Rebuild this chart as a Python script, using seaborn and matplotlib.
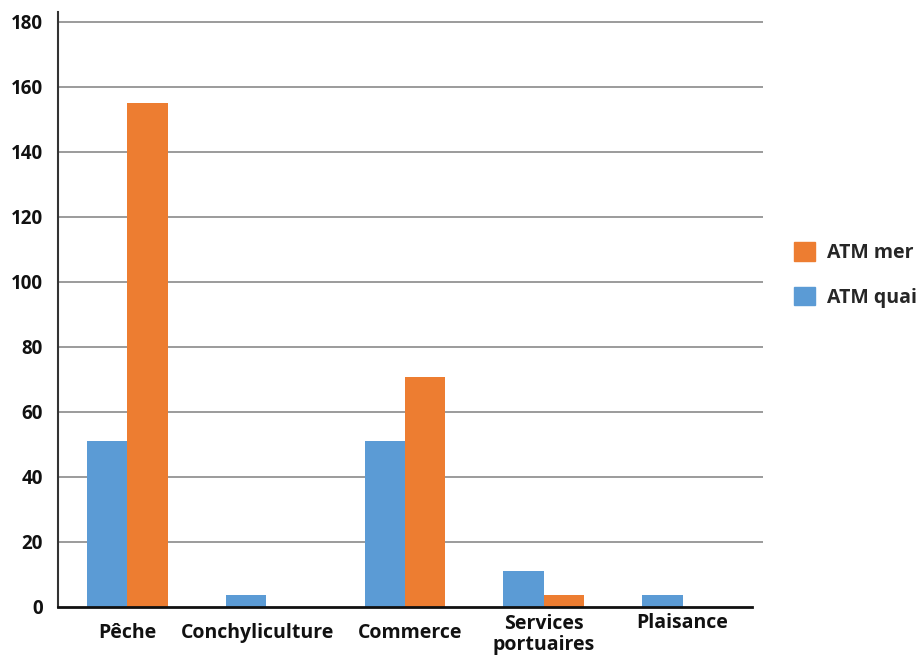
import numpy as np
import pandas as pd
import seaborn as sns
import matplotlib.pyplot as plt
from matplotlib.patches import Patch

categories = ["Pêche", "Conchyliculture", "Commerce", "Services\nportuaires", "Plaisance"]
atm_quai = [51, 3.5, 51, 11, 3.5]
atm_mer = [155, 0, 70.5, 3.5, 0]
series = ["ATM quai", "ATM mer"]
colors = {"ATM quai": "#5B9BD5", "ATM mer": "#ED7D31"}
y_ticks = [0, 20, 40, 60, 80, 100, 120, 140, 160, 180]
# offsets (points) of each category label from its slot centre
label_dx = [0, -6, 4, 0, 0]
label_dy = [-19, -19, -19, -20, -12]

df = pd.DataFrame({
    "cat": categories * 2,
    "serie": ["ATM quai"] * 5 + ["ATM mer"] * 5,
    "val": atm_quai + atm_mer,
})

sns.set_style("white")
plt.rcParams["font.family"] = ["Open Sans", "DejaVu Sans"]

fig = plt.figure(figsize=(9.21, 6.55), dpi=100)
ax = fig.add_axes([58 / 921, 48.5 / 655, (763 - 58) / 921, (606.5 - 12) / 655])

sns.barplot(data=df, x="cat", y="val", hue="serie", hue_order=series,
            palette=colors, width=0.58, saturation=1, legend=False,
            linewidth=0, ax=ax)

ax.set_ylim(0, 183)
ax.set_xlim(-0.5, 4.58)
ax.set_yticks(y_ticks)
ax.set_yticklabels([str(t) for t in y_ticks], fontsize=13.5, fontweight="bold")
for t in y_ticks[1:]:
    ax.axhline(t, color="#808080", lw=1.1, zorder=0)

for s in ["top", "right"]:
    ax.spines[s].set_visible(False)
ax.spines["left"].set_color("#333333")
ax.spines["left"].set_linewidth(1.5)
ax.spines["bottom"].set_color("#111111")
ax.spines["bottom"].set_linewidth(2)
ax.spines["bottom"].set_bounds(-0.5, 4.5)
ax.tick_params(axis="y", length=0, pad=11, labelcolor="#111111")

ax.set_xticks(range(len(categories)))
ax.set_xticklabels([])
ax.tick_params(axis="x", which="major", length=0)
ax.set_xticks(np.arange(-0.5, 5.0, 1.0), minor=True)
ax.tick_params(axis="x", which="minor", length=6, width=1.5, color="#222222", direction="out")

for i, lab in enumerate(categories):
    ax.annotate(lab, xy=(i, 0), xycoords=("data", "axes fraction"),
                xytext=(label_dx[i], label_dy[i]), textcoords="offset points",
                ha="center", va="center", fontsize=14, fontweight="bold",
                color="#111111", linespacing=1.1, annotation_clip=False)

ax.set_xlabel("")
ax.set_ylabel("")

handles = [Patch(color=colors["ATM mer"], label="ATM mer"),
           Patch(color=colors["ATM quai"], label="ATM quai")]
leg = fig.legend(handles=handles, loc="center left", bbox_to_anchor=(776 / 921, 1 - 275 / 655),
                 frameon=False, handlelength=1.1, handleheight=1.1, handletextpad=0.6,
                 labelspacing=1.2, prop={"weight": "bold", "size": 14})

fig.savefig("out.png", dpi=100)
